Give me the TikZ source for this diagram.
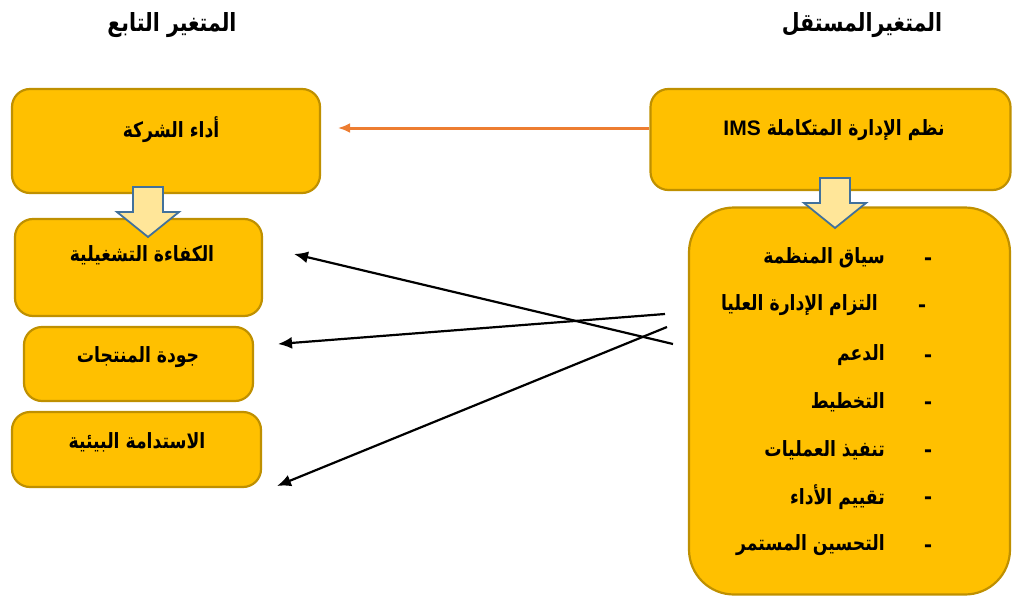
\documentclass[tikz,border=0pt]{standalone}
\usepackage{fontspec}
\setmainfont{Liberation Sans}
\newfontfamily\arabicfont[Script=Arabic, FakeStretch=0.82]{DejaVu Sans}
\TeXXeTstate=1
\usetikzlibrary{arrows.meta}

\definecolor{boxfill}{HTML}{FFC000}
\definecolor{boxline}{HTML}{BF9000}
\definecolor{linkorange}{HTML}{ED7D31}
\definecolor{blockfill}{HTML}{FFE699}
\definecolor{blockline}{HTML}{41719C}

\newcommand{\artext}[1]{{\arabicfont\bfseries\beginR #1\endR}}

\tikzset{
  varbox/.style={draw=boxline, fill=boxfill, line width=2.2pt, rounded corners=18pt},
  label/.style={font=\fontsize{21}{24}\selectfont, inner sep=0pt},
  headlabel/.style={font=\fontsize{25}{28}\selectfont, inner sep=0pt},
  dashlabel/.style={font=\fontsize{24}{26}\selectfont\bfseries, inner sep=0pt},
  blockarrow/.style={draw=blockline, fill=blockfill, line width=1.8pt, line join=miter},
  link/.style={-{Latex[length=14pt,width=12pt]}, line width=2.2pt, black}
}

\begin{document}
\begin{tikzpicture}[x=1pt, y=-1pt]
    \useasboundingbox (0,0) rectangle (1013,597);

    % Headers
    \node[headlabel] (dephead) at (172,25) {\artext{المتغير التابع}};
    \node[headlabel] (indhead) at (862,25) {\artext{المتغيرالمستقل}};

    % Dependent variable boxes
    \node[varbox, minimum width=308, minimum height=104] (perf) at (166,141) {};
    \node[varbox, minimum width=247, minimum height=97] (eff) at (138.5,267.5) {};
    \node[varbox, minimum width=229, minimum height=74] (qual) at (138.5,364) {};
    \node[varbox, minimum width=249, minimum height=75] (sust) at (136.5,449.5) {};

    \node[label] (perftext) at (171,130) {\artext{أداء الشركة}};
    \node[label] (efftext) at (142,255) {\artext{الكفاءة التشغيلية}};
    \node[label] (qualtext) at (138,357) {\artext{جودة المنتجات}};
    \node[label] (susttext) at (137,442) {\artext{الاستدامة البيئية}};

    % Independent variable boxes
    \node[varbox, minimum width=360, minimum height=101] (ims) at (830.5,139.5) {};
    \node[varbox, rounded corners=45pt, minimum width=321, minimum height=387] (dims) at (849.5,401) {};

    \node[label] (imstext) at (834,130) {\artext{نظم الإدارة المتكاملة \beginL{\normalfont\bfseries IMS}\endL}};

    % Dimensions list
    \foreach \y/\txt [count=\i] in {258/سياق المنظمة, 355/الدعم, 402/التخطيط,
        450/تنفيذ العمليات, 497/تقييم الأداء, 545/التحسين المستمر} {
      \node[label, anchor=east] (item\i) at (885,\y) {\artext{\txt}};
      \node[dashlabel] (dash\i) at (928,{\y+4}) {-};
    }
    \node[label, anchor=east] (itemtop) at (878,305) {\artext{التزام الإدارة العليا}};
    \node[dashlabel] (dashtop) at (922,309) {-};

    % Block arrows
    \filldraw[blockarrow] (133,187) -- (163,187) -- (163,212) -- (179,212)
      -- (148,237) -- (117,212) -- (133,212) -- cycle;
    \filldraw[blockarrow] (820,178) -- (850,178) -- (850,203) -- (866,203)
      -- (835,228) -- (804,203) -- (820,203) -- cycle;

    % Orange link
    \coordinate (perfend) at (338,128);
    \draw[-{Latex[length=12pt,width=10pt]}, line width=3pt, linkorange] (ims.west |- perfend) -- (perfend);

    % Black links
    \coordinate (src1) at (673,344);
    \coordinate (src2) at (665,314);
    \coordinate (src3) at (667,327);
    \coordinate (effend) at (294,254);
    \coordinate (qualend) at (278,344);
    \coordinate (sustend) at (277,486);
    \draw[link] (src1) -- (effend);
    \draw[link] (src2) -- (qualend);
    \draw[link] (src3) -- (sustend);
\end{tikzpicture}
\end{document}
